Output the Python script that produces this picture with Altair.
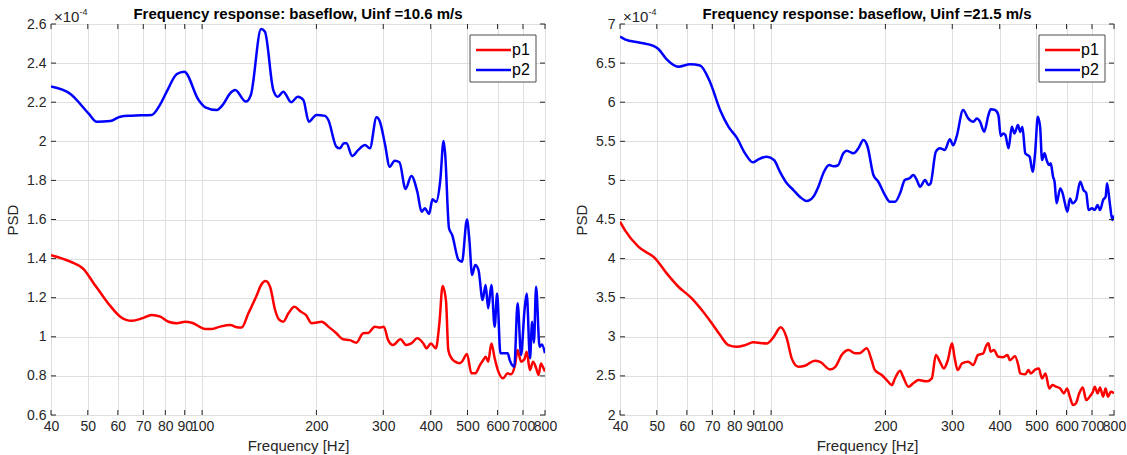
import altair as alt
import pandas as pd

FONT = "Liberation Sans"
AX = "#262626"

# ---------------- data (PSD values in units of 1e-4) ----------------
f_b1 = [40, 45, 50.2, 52.8, 57.3, 60.9, 65.3, 73.7, 77.1, 80.7, 85.8, 89.7, 97.9, 102, 109.3, 113.8, 118.5,
        122.2, 130.4, 134.4, 143, 146.4, 154, 158.2, 163.6, 171.6, 178.7, 184.8, 191, 200, 210.8, 215, 225.8,
        230.4, 236.4, 240, 248.4, 257.6, 268.5, 276.6, 288, 294, 302.8, 312, 321.6, 331, 343.4, 355.6, 368.8,
        378.4, 386.5, 396, 404.4, 413.6, 424, 432.4, 436.5, 447, 455.6, 473.6, 483.6, 498.4, 505.8, 514, 524,
        534.4, 548, 558, 566.8, 578, 589.6, 598.4, 610.4, 638, 646, 664, 677.6, 692, 706, 716, 730.4, 740,
        748, 758, 774, 785, 800]
v_b1 = [2.28, 2.242, 2.143, 2.10, 2.104, 2.126, 2.131, 2.135, 2.18, 2.254, 2.344, 2.356, 2.211, 2.174, 2.16,
        2.191, 2.245, 2.262, 2.203, 2.237, 2.574, 2.56, 2.262, 2.228, 2.254, 2.2, 2.228, 2.211, 2.1, 2.135, 2.13,
        2.109, 1.972, 1.964, 1.99, 1.99, 1.925, 1.955, 1.981, 1.964, 2.123, 2.1, 1.99, 1.87, 1.901, 1.893,
        1.756, 1.823, 1.742, 1.64, 1.657, 1.628, 1.703, 1.691, 1.802, 2.002, 1.939, 1.555, 1.521, 1.393,
        1.384, 1.6, 1.495, 1.316, 1.367, 1.342, 1.188, 1.265, 1.146, 1.265, 1.052, 1.222, 0.916, 0.916,
        0.881, 0.847, 1.171, 0.907, 1.129, 1.222, 0.89, 1.077, 0.97, 1.256, 0.949, 0.96, 0.916]

f_r1 = [40, 45, 48.8, 51.8, 54.5, 57.3, 60.9, 65.3, 69.4, 73.7, 77.6, 81.6, 85.8, 90.2, 94, 102, 106, 111.6,
        118.5, 124.6, 127, 132.4, 139.4, 143, 147, 151, 155.7, 159.3, 163.6, 168.8, 175, 181.7, 187.6, 194.5,
        206.6, 215, 225.8, 235, 245, 254.8, 265.6, 274, 285, 294, 301, 309, 318.4, 333, 345, 355.6, 368.8,
        382.6, 390, 400.4, 412.6, 421.6, 430, 439, 445, 454, 464, 476, 483.6, 498.4, 512, 524, 539.6, 550,
        558, 566.8, 578, 589.6, 601, 620, 638, 650, 667, 677.6, 692, 706, 716, 730, 744, 758, 770, 780, 788,
        800]
v_r1 = [1.418, 1.384, 1.345, 1.274, 1.214, 1.158, 1.103, 1.082, 1.094, 1.112, 1.103, 1.077, 1.069, 1.077,
        1.072, 1.04, 1.04, 1.052, 1.06, 1.047, 1.047, 1.12, 1.214, 1.265, 1.285, 1.256, 1.137, 1.089, 1.077,
        1.12, 1.154, 1.129, 1.112, 1.069, 1.077, 1.052, 1.018, 0.987, 0.983, 0.97, 1.018, 1.02, 1.052, 1.047,
        1.052, 0.983, 0.958, 0.987, 0.958, 0.966, 0.992, 0.966, 0.941, 0.966, 0.941, 1.069, 1.26, 1.181,
        0.933, 0.89, 0.873, 0.865, 0.873, 0.912, 0.813, 0.813, 0.856, 0.881, 0.898, 0.873, 0.966, 0.89, 0.83,
        0.788, 0.813, 0.808, 0.856, 0.933, 0.873, 0.885, 0.924, 0.83, 0.873, 0.84, 0.805, 0.864, 0.85, 0.822]

f_b2 = [40, 41.2, 45.2, 49, 50.5, 53.1, 57, 61.2, 65, 69, 73.4, 77.2, 81.2, 85.4, 89.5, 92.6, 97.4, 101.8,
        105.5, 110, 114.5, 119, 124, 129.2, 133.2, 137.8, 142.2, 146, 149.8, 155, 158.2, 164.8, 169.8, 175,
        179.3, 186, 191.6, 199.4, 205.6, 212, 218.6, 225, 232, 236.8, 242, 246.8, 254.4, 259.6, 263, 271.6,
        278.4, 286.8, 295.6, 301.6, 308, 320.4, 330.4, 340.8, 348, 355, 364, 373.6, 378.8, 388.8, 396.8,
        402.4, 408.8, 414, 422, 430.4, 437.6, 446.8, 453.2, 459, 467.2, 479.6, 488.4, 496, 504, 511, 517.2,
        525, 531.6, 540, 545, 552.8, 558, 564.8, 577.2, 586, 594, 603, 612.4, 622, 635.6, 651.6, 665, 676,
        685.6, 700, 712, 724, 735, 749, 760.4, 767, 780, 792, 800]
v_b2 = [6.838, 6.804, 6.761, 6.719, 6.68, 6.548, 6.454, 6.484, 6.47, 6.262, 5.9, 5.687, 5.546, 5.346, 5.231,
        5.27, 5.303, 5.261, 5.111, 4.962, 4.877, 4.791, 4.736, 4.791, 4.92, 5.111, 5.197, 5.18, 5.19, 5.346,
        5.38, 5.346, 5.41, 5.516, 5.44, 5.069, 4.983, 4.813, 4.727, 4.727, 4.835, 5.005, 5.03, 5.069, 5.005,
        4.92, 5.005, 4.94, 4.96, 5.367, 5.41, 5.39, 5.525, 5.45, 5.559, 5.9, 5.794, 5.751, 5.79, 5.751,
        5.623, 5.836, 5.909, 5.9, 5.836, 5.568, 5.6, 5.58, 5.41, 5.687, 5.6, 5.708, 5.62, 5.687, 5.346,
        5.303, 5.111, 5.36, 5.815, 5.687, 5.261, 5.346, 5.261, 5.197, 5.22, 5.047, 4.98, 4.707, 4.898,
        4.835, 4.707, 4.6, 4.77, 4.707, 4.749, 4.983, 4.877, 4.84, 4.621, 4.643, 4.621, 4.685, 4.621,
        4.749, 4.79, 4.962, 4.707, 4.493, 4.55]

f_r2 = [40, 41.2, 44.7, 49.5, 53.1, 57, 61.8, 65.7, 69.8, 73.4, 77.2, 81.2, 85.4, 89.8, 97.4, 101.4, 106,
        110, 113.3, 118, 122.8, 130.4, 134.6, 143, 147.6, 153.4, 160, 166.4, 170.8, 178.6, 184, 187.6, 195.6,
        201.6, 208, 212, 218.6, 222.6, 230, 236.8, 244.4, 257.2, 265, 271.6, 278.4, 285, 292, 299.6, 304,
        310, 318.4, 330.4, 340.8, 350.4, 362, 367.6, 373.6, 378.8, 386, 396.8, 408.8, 419.2, 425.6, 438.8,
        447.6, 453, 467, 476, 483, 496, 507, 517, 528, 540, 551, 563, 577, 590.4, 602, 612, 624, 635, 648,
        662, 676, 690, 704, 712, 724, 735, 749, 760, 771, 785, 800]
v_r2 = [4.472, 4.365, 4.152, 4.003, 3.811, 3.64, 3.492, 3.342, 3.172, 3.022, 2.894, 2.873, 2.894, 2.929,
        2.915, 2.993, 3.121, 2.98, 2.724, 2.617, 2.63, 2.694, 2.68, 2.583, 2.617, 2.766, 2.83, 2.79, 2.79,
        2.852, 2.7, 2.575, 2.511, 2.447, 2.383, 2.47, 2.566, 2.49, 2.362, 2.405, 2.447, 2.43, 2.468, 2.766,
        2.68, 2.596, 2.7, 2.916, 2.745, 2.575, 2.66, 2.68, 2.64, 2.766, 2.788, 2.873, 2.916, 2.81, 2.83,
        2.745, 2.74, 2.766, 2.7, 2.75, 2.64, 2.532, 2.52, 2.575, 2.532, 2.58, 2.596, 2.468, 2.532, 2.34,
        2.383, 2.362, 2.34, 2.277, 2.34, 2.234, 2.127, 2.148, 2.277, 2.353, 2.191, 2.234, 2.298, 2.362,
        2.277, 2.353, 2.234, 2.34, 2.234, 2.298, 2.277]

x_ticks = [40, 50, 60, 70, 80, 90, 100, 200, 300, 400, 500, 600, 700, 800]
y_ticks_1 = [0.6, 0.8, 1.0, 1.2, 1.4, 1.6, 1.8, 2.0, 2.2, 2.4, 2.6]
y_ticks_2 = [2.0, 2.5, 3.0, 3.5, 4.0, 4.5, 5.0, 5.5, 6.0, 6.5, 7.0]
series = ["p1", "p2"]
colors = ["#ff0000", "#0000ff"]
titles = ["Frequency response: baseflow, Uinf =10.6 m/s",
          "Frequency response: baseflow, Uinf =21.5 m/s"]

W, H = 494, 391
TL = 5  # inward tick length
LX, LY, LW, LH = 419, 11, 66, 47   # legend box (pixels inside the plot area)


def panel(fb, vb, fr, vr, yticks, title):
    df = pd.concat([
        pd.DataFrame({"f": fr, "psd": vr, "series": "p1"}),
        pd.DataFrame({"f": fb, "psd": vb, "series": "p2"}),
    ], ignore_index=True)
    xs = alt.Scale(type="log", domain=[40, 800], nice=False)
    ys = alt.Scale(domain=[yticks[0], yticks[-1]], nice=False, zero=False)

    lines = alt.Chart(df).mark_line(strokeWidth=2.5, interpolate="monotone", clip=True).encode(
        x=alt.X("f:Q", scale=xs, axis=alt.Axis(
            values=x_ticks, tickCount=40, format="d", labelFlush=False, labelOverlap=False,
            labelFontSize=14, labelColor=AX, labelFont=FONT, labelPadding=4,
            ticks=False, domain=False, grid=True, gridColor="#dfdfdf", gridWidth=1,
            title="Frequency [Hz]", titleFont=FONT, titleFontSize=15, titleFontWeight="normal",
            titleColor=AX, titlePadding=5)),
        y=alt.Y("psd:Q", scale=ys, axis=alt.Axis(
            values=yticks, tickCount=40, format="~g", labelOverlap=False,
            labelFontSize=14, labelColor=AX, labelFont=FONT,
            labelPadding=5, ticks=False, domain=False, grid=True, gridColor="#dfdfdf", gridWidth=1,
            title="PSD", titleFont=FONT, titleFontSize=15, titleFontWeight="normal",
            titleColor=AX, titlePadding=6)),
        color=alt.Color("series:N", scale=alt.Scale(domain=series, range=colors), legend=None),
    )

    xt = pd.DataFrame({"f": x_ticks})
    yt = pd.DataFrame({"psd": yticks})
    rule = dict(color=AX, strokeWidth=1)
    bottom = alt.Chart(xt).mark_rule(**rule).encode(
        x=alt.X("f:Q", scale=xs), y=alt.value(H), y2=alt.value(H - TL))
    top = alt.Chart(xt).mark_rule(**rule).encode(
        x=alt.X("f:Q", scale=xs), y=alt.value(0), y2=alt.value(TL))
    left = alt.Chart(yt).mark_rule(**rule).encode(
        y=alt.Y("psd:Q", scale=ys), x=alt.value(0), x2=alt.value(TL))
    right = alt.Chart(yt).mark_rule(**rule).encode(
        y=alt.Y("psd:Q", scale=ys), x=alt.value(W), x2=alt.value(W - TL))

    ttl = alt.Chart(pd.DataFrame({"t": [title]})).mark_text(
        align="center", baseline="alphabetic", font=FONT, fontSize=15, fontWeight="bold",
        color="#000000").encode(x=alt.value(W / 2), y=alt.value(-5), text="t:N")
    mult = alt.Chart(pd.DataFrame({"t": ["×10"]})).mark_text(
        align="left", baseline="alphabetic", font=FONT, fontSize=15, color=AX).encode(
        x=alt.value(3), y=alt.value(-2), text="t:N")
    expo = alt.Chart(pd.DataFrame({"t": ["-4"]})).mark_text(
        align="left", baseline="alphabetic", font=FONT, fontSize=9, color=AX).encode(
        x=alt.value(28.5), y=alt.value(-9), text="t:N")

    # legend box drawn inside the axes (MATLAB style)
    box = alt.Chart(pd.DataFrame({"t": [0]})).mark_rect(
        fill="white", stroke="#4d4d4d", strokeWidth=1).encode(
        x=alt.value(LX), x2=alt.value(LX + LW), y=alt.value(LY), y2=alt.value(LY + LH))
    leg = [box]
    for i, (s, c) in enumerate(zip(series, colors)):
        yy = LY + 15 + 20 * i
        leg.append(alt.Chart(pd.DataFrame({"s": [s]})).mark_rule(color=c, strokeWidth=2.5).encode(
            x=alt.value(LX + 6), x2=alt.value(LX + 41), y=alt.value(yy)))
        leg.append(alt.Chart(pd.DataFrame({"s": [s]})).mark_text(
            align="left", baseline="middle", font=FONT, fontSize=16, color="#000000").encode(
            x=alt.value(LX + 42), y=alt.value(yy), text="s:N"))

    return alt.layer(lines, bottom, top, left, right, ttl, mult, expo, *leg).properties(
        width=W, height=H)


p1 = panel(f_b1, v_b1, f_r1, v_r1, y_ticks_1, titles[0])
p2 = panel(f_b2, v_b2, f_r2, v_r2, y_ticks_2, titles[1])

chart = alt.hconcat(p1, p2, spacing=75, bounds="flush").properties(
    padding={"left": 5, "top": 6, "right": 0, "bottom": 0},
    background="white",
).configure_view(stroke=AX, strokeWidth=1)

chart.save("out.html", embed_options={"renderer": "svg", "actions": False})
